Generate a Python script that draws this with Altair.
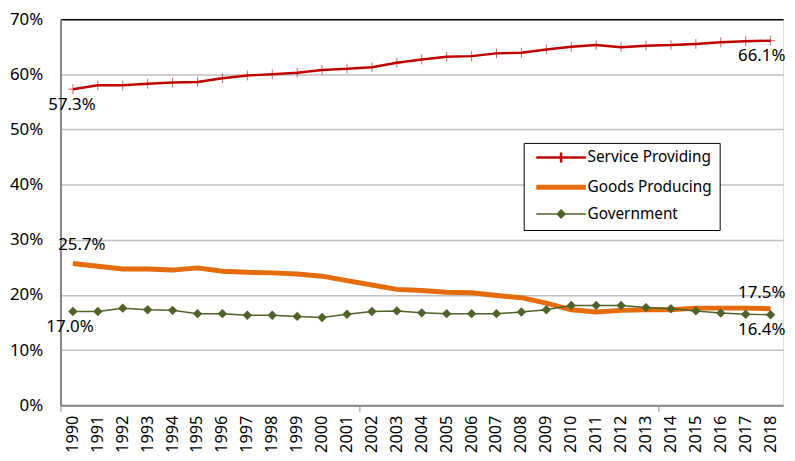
import altair as alt
import pandas as pd

years = [str(y) for y in range(1990, 2019)]
service = [57.3, 58.0, 58.0, 58.3, 58.5, 58.6, 59.3, 59.8, 60.0, 60.3, 60.8, 61.0, 61.3, 62.1,
           62.7, 63.2, 63.3, 63.8, 63.9, 64.5, 65.0, 65.3, 64.9, 65.2, 65.3, 65.5, 65.8, 66.0, 66.1]
goods = [25.7, 25.2, 24.7, 24.7, 24.5, 24.9, 24.3, 24.1, 24.0, 23.8, 23.4, 22.6, 21.8, 21.0,
         20.8, 20.5, 20.4, 19.9, 19.5, 18.5, 17.3, 16.9, 17.2, 17.3, 17.3, 17.6, 17.6, 17.6, 17.5]
government = [17.0, 17.0, 17.6, 17.3, 17.2, 16.6, 16.6, 16.3, 16.3, 16.1, 15.9, 16.5, 17.0, 17.1,
              16.75, 16.6, 16.6, 16.6, 16.9, 17.3, 18.1, 18.1, 18.1, 17.7, 17.5, 17.1, 16.7, 16.5, 16.4]
series_names = ["Service Providing", "Goods Producing", "Government"]
series_colors = ["#C00000", "#E46C0A", "#4F6228"]
series_widths = [2.5, 5, 1.5]
legend_paths = ["M-5,0H5M0,-1V1", "M-5,0H5", "M-5,0H5M0,-0.8L0.8,0L0,0.8L-0.8,0Z"]
tick_years = ["1990", "2002", "2014"]

rows = []
for name, vals in zip(series_names, [service, goods, government]):
    for y, v in zip(years, vals):
        rows.append({"year": y, "series": name, "value": v})
df = pd.DataFrame(rows)

FONT = "Noto Sans"

xscale = alt.Scale(type="band", domain=years, paddingInner=0, paddingOuter=0)
yscale = alt.Scale(domain=[0, 70], nice=False)

tick_test = "indexof(" + str(tick_years) + ", datum.value) >= 0"

x_main = alt.X("year:O", scale=xscale, title=None,
               axis=alt.Axis(labelAngle=-90, labelFontSize=16.5, labelFont=FONT, labelColor="black",
                             labelPadding=4, bandPosition=0, labelOffset=0,
                             ticks=True, tickSize=6, tickColor="#868686", tickWidth=1,
                             tickOpacity={"condition": {"test": tick_test, "value": 1}, "value": 0},
                             domainColor="#868686", domainWidth=2,
                             grid=False, orient="bottom"))
y_main = alt.Y("value:Q", scale=yscale, title=None,
               axis=alt.Axis(values=[0, 10, 20, 30, 40, 50, 60, 70], labelExpr="datum.value + '%'",
                             labelFontSize=17, labelFont=FONT, labelColor="black", labelPadding=18,
                             ticks=False, domainColor="#868686", domainWidth=2,
                             gridColor={"condition": {"test": "datum.value == 70", "value": "black"},
                                        "value": "#BFBFBF"},
                             gridWidth=1.5))
x_plain = alt.X("year:O", scale=xscale)
y_plain = alt.Y("value:Q", scale=yscale)

base = alt.Chart(df)


def series_line(name, color, width, axes=False):
    return base.transform_filter(alt.datum.series == name).mark_line(
        color=color, strokeWidth=width
    ).encode(x=x_main if axes else x_plain, y=y_main if axes else y_plain)


lines = [series_line(n, c, w, axes=(i == 0))
         for i, (n, c, w) in enumerate(zip(series_names, series_colors, series_widths))]
lines = [lines[1], lines[2], lines[0]]

plus_marks = base.transform_filter(alt.datum.series == "Service Providing").mark_point(
    shape="M0,-1V1M-1,0H1", size=100, stroke="#C00000", strokeWidth=1, opacity=0.6, filled=False
).encode(x=x_plain, y=y_plain)

diamonds = base.transform_filter(alt.datum.series == "Government").mark_point(
    shape="diamond", size=90, filled=True, color="#4F6228", opacity=1
).encode(x=x_plain, y=y_plain)

leg = alt.Legend(title=None, orient="none", legendX=468, legendY=125, strokeColor="black",
                 fillColor="white", padding=7, labelFontSize=15.5, labelFont=FONT, labelColor="black",
                 labelExpr="datum.label + '\u2003'",
                 symbolSize=100, symbolOffset=23, labelOffset=19, rowPadding=9, symbolOpacity=1)

legend_layer = base.mark_point(filled=False, clip=True, opacity=1).encode(
    x=x_plain,
    y=alt.value(-500),
    shape=alt.Shape("series:N", scale=alt.Scale(domain=series_names, range=legend_paths), legend=leg),
    stroke=alt.Stroke("series:N", scale=alt.Scale(domain=series_names, range=series_colors), legend=leg),
    fill=alt.Fill("series:N", scale=alt.Scale(domain=series_names, range=series_colors), legend=leg),
    strokeWidth=alt.StrokeWidth("series:N",
                                scale=alt.Scale(type="ordinal", domain=series_names, range=series_widths),
                                legend=leg),
)


def label_pct(series, year, dx, dy, align):
    return base.transform_filter(
        (alt.datum.series == series) & (alt.datum.year == year)
    ).transform_calculate(lab="format(datum.value, '.1f') + '%'").mark_text(
        dx=dx, dy=dy, align=align, baseline="middle", fontSize=17, font=FONT, color="black"
    ).encode(x=x_plain, y=y_plain, text="lab:N")


labels = [
    label_pct("Service Providing", "1990", -1, 16, "center"),
    label_pct("Service Providing", "2018", 15, 16, "right"),
    label_pct("Goods Producing", "1990", 9, -19, "center"),
    label_pct("Goods Producing", "2018", 15, -16, "right"),
    label_pct("Government", "1990", -3, 16, "center"),
    label_pct("Government", "2018", 15, 15, "right"),
]

chart = alt.layer(*lines, plus_marks, diamonds, *labels, legend_layer).properties(
    width=730, height=390,
    autosize=alt.AutoSizeParams(type="none"),
    padding={"left": 53, "top": 9, "right": 4, "bottom": 46},
).configure_view(stroke="black", strokeWidth=2).configure(background="white")

chart.save("out.html", embed_options={"renderer": "svg", "actions": False})
